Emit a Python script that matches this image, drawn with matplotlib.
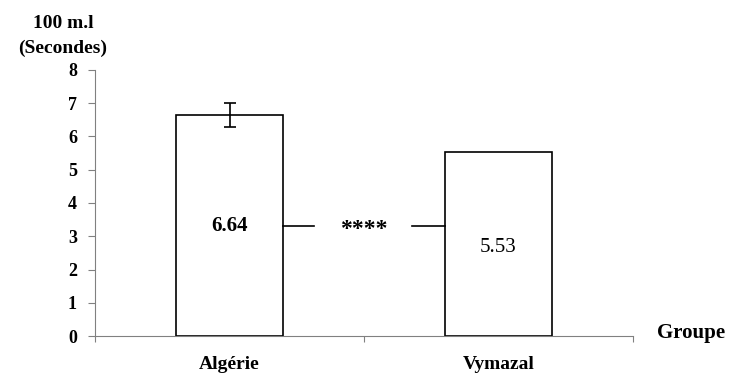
import matplotlib
matplotlib.use("Agg")
import matplotlib.pyplot as plt

groups = ["Algérie", "Vymazal"]
means = [6.64, 5.53]
errors = [0.37, 0.0]
value_labels = ["6.64", "5.53"]
label_heights = [3.3, 2.65]
signif = "****"
signif_y = 3.31

plt.rcParams['font.family'] = ['Liberation Serif', 'DejaVu Serif']
plt.rcParams['font.weight'] = 'bold'

fig = plt.figure(figsize=(7.31, 3.78), dpi=100)
ax = fig.add_axes([0.130, 0.111, 0.736, 0.704])

x = range(len(groups))
ax.bar(x, means, width=0.4, color='white', edgecolor='black', linewidth=1.2, zorder=2)
ax.errorbar(x[0], means[0], yerr=errors[0], fmt='none', ecolor='black',
            elinewidth=1.2, capsize=4, capthick=1.2, zorder=3)

for xi, lbl, h in zip(x, value_labels, label_heights):
    ax.text(xi, h, lbl, ha='center', va='center', fontsize=15,
            fontweight='bold' if xi == 0 else 'normal')

# significance bracket between the bars
ax.plot([0.2, 0.315], [signif_y, signif_y], color='black', lw=1.2)
ax.plot([0.68, 0.8], [signif_y, signif_y], color='black', lw=1.2)
ax.text(0.5, signif_y - 0.1, signif, ha='center', va='center', fontsize=17)

ax.set_xlim(-0.5, 1.5)
ax.set_ylim(0, 8)
ax.set_yticks(range(0, 9))
ax.set_xticks([-0.5, 0.5, 1.5])
ax.set_xticklabels(['', '', ''])
ax.tick_params(axis='x', length=4, color='gray', width=0.8)
ax.tick_params(axis='y', length=5, color='gray', width=0.8, labelsize=13, pad=8)
for lbl in ax.get_yticklabels():
    lbl.set_fontweight('bold')

for xi, g in zip(x, groups):
    ax.text(xi, -0.6, g, ha='center', va='top', fontsize=14, fontweight='bold')

ax.spines['top'].set_visible(False)
ax.spines['right'].set_visible(False)
ax.spines['left'].set_color('gray')
ax.spines['bottom'].set_color('gray')

fig.text(0.086, 0.939, "100 m.l", ha='center', va='center', fontsize=14, fontweight='bold')
fig.text(0.086, 0.872, "(Secondes)", ha='center', va='center', fontsize=14, fontweight='bold')
fig.text(0.945, 0.12, "Groupe", ha='center', va='center', fontsize=15, fontweight='bold')

fig.savefig("out.png", dpi=100)
